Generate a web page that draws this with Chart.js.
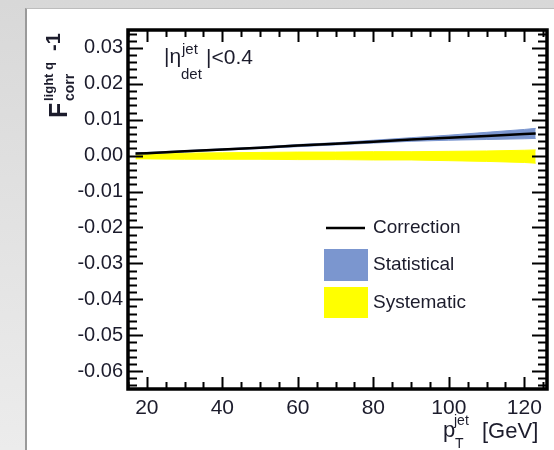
<!DOCTYPE html>
<html>
<head>
<meta charset="utf-8">
<script src="https://cdn.jsdelivr.net/npm/chart.js"></script>
<style>
  html, body { margin: 0; padding: 0; }
  body { width: 554px; height: 450px; overflow: hidden; background: linear-gradient(#d8d8d8, #ececec); position: relative; }
  #panel { position: absolute; left: 25px; top: 8px; right: 0; bottom: 0; background: #fff;
           border-left: 2px solid #9a9a9a; border-top: 1px solid #bdbdbd; }
  #wrap { position: absolute; left: 0; top: 0; width: 554px; height: 450px; }
</style>
</head>
<body>
<div id="panel"></div>
<div id="wrap"><canvas id="corrChart"></canvas></div>
<script>
// pT bins (GeV) and values
var ptBins     = [17, 20, 30, 40, 50, 60, 70, 80, 90, 100, 110, 120, 123];
var correction = [0.0006, 0.0007, 0.0012, 0.0017, 0.0022, 0.0028, 0.0033, 0.0039, 0.0045, 0.0050, 0.0055, 0.0060, 0.0062];
var statErr    = [0.0002, 0.0002, 0.0002, 0.0002, 0.0002, 0.0003, 0.0003, 0.0004, 0.0005, 0.0007, 0.0010, 0.0013, 0.0014];
var sysUp      = [0.0004, 0.0005, 0.0007, 0.0008, 0.0009, 0.0010, 0.0010, 0.0011, 0.0011, 0.0012, 0.0013, 0.0015, 0.0016];
var sysDown    = [-0.0009, -0.0009, -0.0010, -0.0010, -0.0010, -0.0011, -0.0011, -0.0012, -0.0012, -0.0014, -0.0016, -0.0019, -0.0021];

var xTicks = [20, 40, 60, 80, 100, 120];
var yTicks = [-0.06, -0.05, -0.04, -0.03, -0.02, -0.01, 0.00, 0.01, 0.02, 0.03];

var BLUE = '#7b96cf';
var YELLOW = '#ffff00';
var FONT = '"Liberation Sans", Arial, sans-serif';
var TXT = '#1c1c2c';

function pts(vals) {
  return ptBins.map(function (x, i) { return { x: x, y: vals[i] }; });
}
var statHi = correction.map(function (v, i) { return v + statErr[i]; });
var statLo = correction.map(function (v, i) { return v - statErr[i]; });

// ROOT style frame: thick box + inward ticks on all 4 sides
var framePlugin = {
  id: 'frame',
  afterDraw: function (chart) {
    var ctx = chart.ctx, a = chart.chartArea;
    var xs = chart.scales.x, ys = chart.scales.y;
    ctx.save();
    ctx.strokeStyle = '#000';
    ctx.lineWidth = 2;
    ctx.beginPath();
    // y ticks (minor every 0.002)
    for (var k = -32; k <= 17; k++) {
      var v = k * 0.002;
      var py = Math.round(ys.getPixelForValue(v)) + 0.5;
      var major = (k % 5 === 0);
      var len = major ? 15 : 9;
      ctx.moveTo(a.left, py); ctx.lineTo(a.left + len, py);
      ctx.moveTo(a.right, py); ctx.lineTo(a.right - len, py);
    }
    // x ticks (minor every 5)
    for (var x = 15; x <= 125; x += 5) {
      var px = Math.round(xs.getPixelForValue(x)) + 0.5;
      var lenx = (x % 20 === 0) ? 12 : 7;
      ctx.moveTo(px, a.bottom); ctx.lineTo(px, a.bottom - lenx);
      ctx.moveTo(px, a.top); ctx.lineTo(px, a.top + lenx);
    }
    ctx.stroke();
    ctx.lineWidth = 3.5;
    ctx.strokeRect(a.left, a.top, a.right - a.left, a.bottom - a.top);
    ctx.restore();
  }
};

// titles, label and legend
var textPlugin = {
  id: 'texts',
  afterDraw: function (chart) {
    var ctx = chart.ctx;
    ctx.save();
    ctx.fillStyle = TXT;
    ctx.textBaseline = 'alphabetic';
    ctx.textAlign = 'left';

    // y title, rotated
    ctx.save();
    ctx.translate(67, 118);
    ctx.rotate(-Math.PI / 2);
    ctx.font = 'bold 25px ' + FONT;
    ctx.fillText('F', 0, 0);
    ctx.font = 'bold 14px ' + FONT;
    ctx.fillText('corr', 17, 7);
    ctx.font = 'bold 13px ' + FONT;
    ctx.fillText('light q', 17, -14);
    ctx.font = 'bold 20px ' + FONT;
    ctx.fillText('-1', 67, -7);
    ctx.restore();

    // x title
    ctx.font = '22px ' + FONT;
    ctx.fillText('p', 443, 437);
    ctx.font = '14px ' + FONT;
    ctx.fillText('jet', 454, 425);
    ctx.fillText('T', 455, 448);
    ctx.font = '22px ' + FONT;
    ctx.fillText('[GeV]', 482, 438);

    // eta label
    ctx.font = '21px ' + FONT;
    ctx.fillText('|\u03b7', 164, 63);
    ctx.font = '15px ' + FONT;
    ctx.fillText('jet', 182, 54);
    ctx.fillText('det', 181, 79);
    ctx.font = '21px ' + FONT;
    ctx.fillText('|<0.4', 206, 64);

    // legend
    ctx.strokeStyle = '#000';
    ctx.lineWidth = 2.5;
    ctx.beginPath(); ctx.moveTo(326, 228); ctx.lineTo(365, 228); ctx.stroke();
    ctx.fillStyle = BLUE;
    ctx.fillRect(324, 249, 44, 32);
    ctx.fillStyle = YELLOW;
    ctx.fillRect(324, 287, 44, 31);
    ctx.fillStyle = TXT;
    ctx.font = '19px ' + FONT;
    ctx.textBaseline = 'middle';
    ctx.fillText('Correction', 373, 228);
    ctx.fillText('Statistical', 373, 265);
    ctx.fillText('Systematic', 373, 303);
    ctx.restore();
  }
};

// lower "order" is drawn on top, so the correction line gets order 0
var ctx = document.getElementById('corrChart').getContext('2d');
var corrChart = new Chart(ctx, {
  type: 'line',
  data: {
    datasets: [
      { label: 'sysUp', data: pts(sysUp), borderColor: YELLOW, borderWidth: 1, pointRadius: 0, fill: false, order: 4 },
      { label: 'Systematic', data: pts(sysDown), borderColor: YELLOW, borderWidth: 1, pointRadius: 0,
        backgroundColor: YELLOW, fill: '-1', order: 3 },
      { label: 'statUp', data: pts(statHi), borderColor: BLUE, borderWidth: 1, pointRadius: 0, fill: false, order: 2 },
      { label: 'Statistical', data: pts(statLo), borderColor: BLUE, borderWidth: 1, pointRadius: 0,
        backgroundColor: BLUE, fill: '-1', order: 1 },
      { label: 'Correction', data: pts(correction), borderColor: '#000', borderWidth: 2.5, pointRadius: 0, fill: false, order: 0 }
    ]
  },
  options: {
    responsive: true,
    maintainAspectRatio: false,
    animation: false,
    devicePixelRatio: 1,
    layout: { padding: { top: 30, right: 7, left: 0, bottom: 0 } },
    plugins: { legend: { display: false }, tooltip: { enabled: false } },
    elements: { line: { tension: 0 } },
    scales: {
      x: {
        type: 'linear', min: 15, max: 126,
        grid: { display: false, drawTicks: false },
        border: { display: false },
        afterBuildTicks: function (s) { s.ticks = xTicks.map(function (v) { return { value: v }; }); },
        afterFit: function (s) { s.height = 61; },
        ticks: { autoSkip: false, maxRotation: 0, padding: 7, color: TXT,
                 font: { family: FONT, size: 21 } }
      },
      y: {
        type: 'linear', min: -0.065, max: 0.035,
        grid: { display: false, drawTicks: false },
        border: { display: false },
        afterBuildTicks: function (s) { s.ticks = yTicks.map(function (v) { return { value: v }; }); },
        afterFit: function (s) { s.width = 128; },
        ticks: { autoSkip: false, padding: 5, color: TXT,
                 font: { family: FONT, size: 20 },
                 callback: function (v) { return v.toFixed(2); } }
      }
    }
  },
  plugins: [framePlugin, textPlugin]
});
</script>
</body>
</html>
